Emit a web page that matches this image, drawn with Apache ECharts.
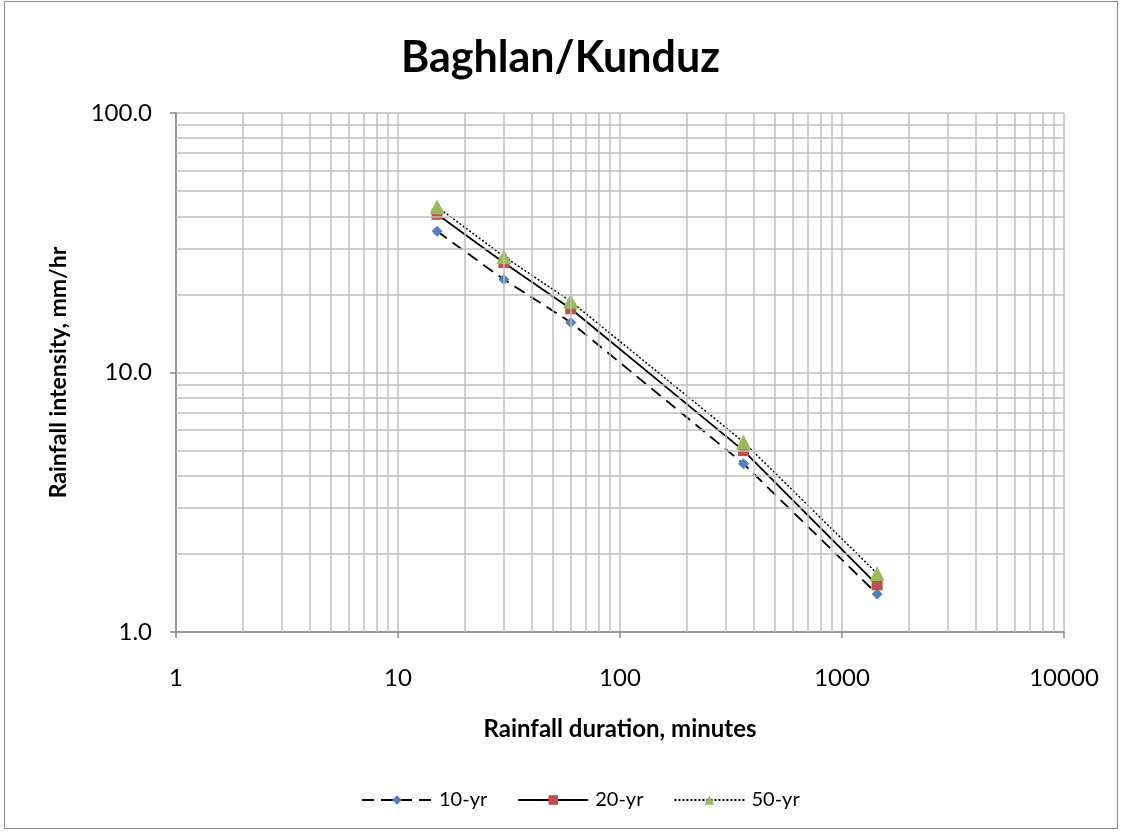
<!DOCTYPE html>
<html>
<head>
<meta charset="utf-8">
<script src="https://cdn.jsdelivr.net/npm/echarts@6/dist/echarts.min.js"></script>
<style>
  html, body { margin: 0; padding: 0; background: #fff; }
  #chart { position: absolute; left: 0; top: 0; width: 1121px; height: 832px; }
  #frame { position: absolute; left: 4px; top: 1px; width: 1114px; height: 828px; border: 1px solid #8c8c8c; box-sizing: border-box; pointer-events: none; }
</style>
</head>
<body>
<div id="chart"></div>
<div id="frame"></div>
<script>
  // durations in minutes
  var durations = [15, 30, 60, 360, 1440];
  // rainfall intensity, mm/hr
  var yr10 = [35.0, 22.8, 15.6, 4.45, 1.40];
  var yr20 = [40.7, 26.5, 17.6, 5.0, 1.52];
  var yr50 = [43.5, 28.0, 18.8, 5.4, 1.68];
  var seriesNames = ['10-yr', '20-yr', '50-yr'];

  // minor grid positions (2..9 within each decade)
  var xMinor = [], yMinor = [];
  [1, 10, 100, 1000].forEach(function (d) {
    for (var k = 2; k <= 9; k++) xMinor.push({ xAxis: k * d });
  });
  [1, 10].forEach(function (d) {
    for (var k = 2; k <= 9; k++) yMinor.push({ yAxis: k * d });
  });

  function pairs(vals) {
    return durations.map(function (d, i) { return [d, vals[i]]; });
  }

  var font = 'Lato, "Open Sans", sans-serif';
  var gridColor = '#bfbfbf';

  var chart = echarts.init(document.getElementById('chart'));
  chart.setOption({
    animation: false,
    textStyle: { fontFamily: font },
    title: {
      text: 'Baghlan/Kunduz',
      left: 'center',
      top: 32,
      textStyle: { fontSize: 43, fontWeight: 'bold', color: '#000', fontFamily: font }
    },
    legend: {
      data: seriesNames,
      bottom: 17,
      left: 356,
      itemWidth: 70,
      itemHeight: 12,
      itemGap: 30,
      textStyle: { fontSize: 20, color: '#000', fontFamily: font, padding: [0, 0, 0, 2] }
    },
    grid: { left: 176, right: 57, top: 113, bottom: 200, containLabel: false },
    xAxis: {
      type: 'log',
      logBase: 10,
      min: 1,
      max: 10000,
      name: 'Rainfall duration, minutes',
      nameLocation: 'middle',
      nameGap: 85,
      nameTextStyle: { fontSize: 24, fontWeight: 'bold', color: '#000', fontFamily: font },
      axisLine: { lineStyle: { color: '#868686', width: 1.5 } },
      axisTick: { show: true, inside: false, length: 6, lineStyle: { color: '#868686', width: 1.5 } },
      axisLabel: { fontSize: 24, color: '#000', margin: 34, formatter: function (v) { return String(Math.round(v)); } },
      splitLine: { show: true, lineStyle: { color: gridColor, width: 1.5 } }
    },
    yAxis: {
      type: 'log',
      logBase: 10,
      min: 1,
      max: 100,
      name: 'Rainfall intensity, mm/hr',
      nameLocation: 'middle',
      nameGap: 106,
      nameTextStyle: { fontSize: 23, fontWeight: 'bold', color: '#000', fontFamily: font },
      axisLine: { show: true, lineStyle: { color: '#868686', width: 1.5 } },
      axisTick: { show: true, inside: false, length: 6, lineStyle: { color: '#868686', width: 1.5 } },
      axisLabel: { fontSize: 24, color: '#000', margin: 24, formatter: function (v) { return v.toFixed(1); } },
      splitLine: { show: true, lineStyle: { color: gridColor, width: 1.5 } }
    },
    series: [
      {
        name: 'minor-grid',
        type: 'line',
        data: [],
        silent: true,
        z: 1,
        markLine: {
          silent: true,
          symbol: 'none',
          label: { show: false },
          animation: false,
          lineStyle: { color: gridColor, width: 1.5, type: 'solid' },
          data: xMinor.concat(yMinor)
        }
      },
      {
        name: '10-yr',
        type: 'line',
        data: pairs(yr10),
        z: 3,
        symbol: 'diamond',
        symbolSize: 11,
        itemStyle: { color: '#4f81bd' },
        lineStyle: { color: '#000', width: 1.8, type: [12, 7] }
      },
      {
        name: '20-yr',
        type: 'line',
        data: pairs(yr20),
        z: 3,
        symbol: 'rect',
        symbolSize: 11,
        itemStyle: { color: '#c0504d' },
        lineStyle: { color: '#000', width: 1.8, type: 'solid' }
      },
      {
        name: '50-yr',
        type: 'line',
        data: pairs(yr50),
        z: 3,
        symbol: 'triangle',
        symbolSize: 15,
        itemStyle: { color: '#9bbb59' },
        lineStyle: { color: '#000', width: 1.5, type: [2, 2] }
      }
    ]
  });
</script>
</body>
</html>
